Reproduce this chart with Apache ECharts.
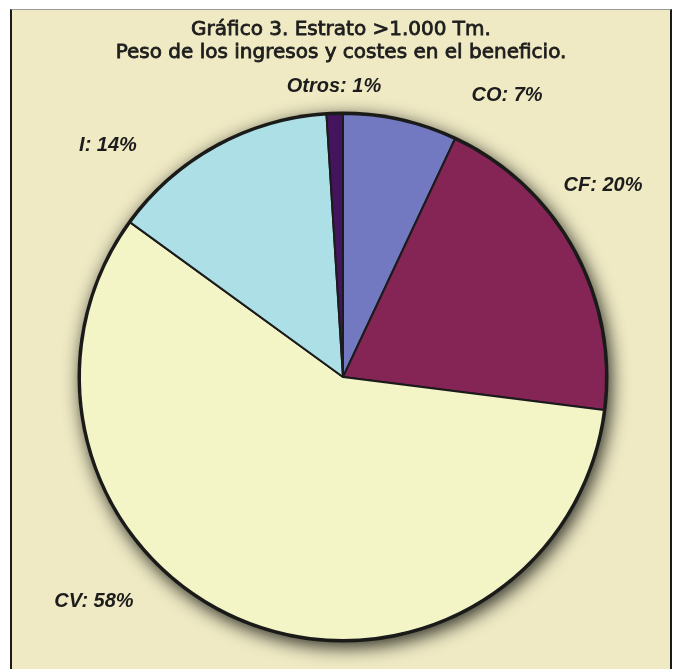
<!DOCTYPE html>
<html>
<head>
<meta charset="utf-8">
<script src="https://cdn.jsdelivr.net/npm/echarts@6/dist/echarts.min.js"></script>
<style>
  html, body { margin: 0; padding: 0; background: #ffffff; }
  #frame {
    position: absolute; left: 10px; top: 9px;
    width: 658px; height: 660px;
    background: #efeac4;
    border-left: 2px solid #1a1a1a;
    border-right: 2px solid #1a1a1a;
    border-top: 1px solid #9a9a9a;
  }
  #chart { width: 658px; height: 660px; }
</style>
</head>
<body>
<div id="frame"><div id="chart"></div></div>
<script>
// datos del gráfico
var categorias = ['CO', 'CF', 'CV', 'I', 'Otros']
var porcentajes = [7, 20, 58, 14, 1]
var colores = ['#7379c1', '#852556', '#f4f5c6', '#ade0e6', '#45145e']
// posición de cada etiqueta (en px dentro del marco)
var posEtiquetas = [[495, 85], [591, 175], [82, 591], [96, 135], [322, 76]]

var myChart = echarts.init(document.getElementById('chart'))

var datos = []
for (var i = 0; i < categorias.length; i++) {
  datos.push({ name: categorias[i], value: porcentajes[i], itemStyle: { color: colores[i] } })
}

myChart.setOption({
  backgroundColor: 'transparent',
  animation: false,
  title: {
    text: 'Gráfico 3. Estrato >1.000 Tm.\nPeso de los ingresos y costes en el beneficio.',
    left: 'center',
    top: 3,
    textStyle: {
      fontFamily: 'DejaVu Sans',
      fontSize: 20,
      fontWeight: 'normal',
      color: '#1c1c1c',
      lineHeight: 23,
      textBorderColor: '#1c1c1c',
      textBorderWidth: 0.8
    }
  },
  series: [
    {
      // sombra / borde oscuro del disco
      type: 'pie',
      silent: true,
      center: [331, 367],
      radius: [0, 265.5],
      label: { show: false },
      labelLine: { show: false },
      itemStyle: {
        color: '#1a1a16',
        shadowBlur: 18,
        shadowColor: 'rgba(0,0,0,0.8)',
        shadowOffsetX: 3,
        shadowOffsetY: 5
      },
      data: [{ value: 1 }]
    },
    {
      type: 'pie',
      center: [331, 367],
      radius: [0, 263],
      startAngle: 90,
      clockwise: true,
      avoidLabelOverlap: false,
      itemStyle: { borderColor: '#1b1b1b', borderWidth: 2 },
      label: {
        show: true,
        position: 'outside',
        formatter: '{b}: {c}%',
        fontFamily: 'Liberation Sans',
        fontSize: 20,
        fontWeight: 'bold',
        fontStyle: 'italic',
        color: '#1c1c1c'
      },
      labelLine: { show: false },
      labelLayout: function (params) {
        var p = posEtiquetas[params.dataIndex]
        return { x: p[0], y: p[1], align: 'center', verticalAlign: 'middle' }
      },
      data: datos
    }
  ]
})
</script>
</body>
</html>
